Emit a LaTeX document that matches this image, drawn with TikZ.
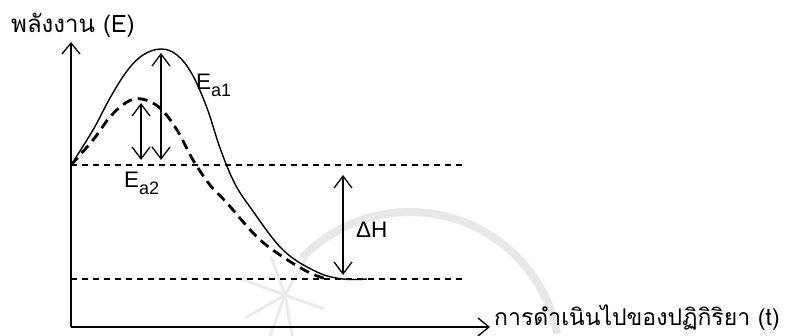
\documentclass[tikz,border=0pt]{standalone}
\usepackage{fontspec}
\setmainfont{Liberation Sans}
\newfontfamily\thaifont[Script=Thai]{Loma}
\usetikzlibrary{arrows.meta}
\newcommand{\mysub}[1]{\raisebox{-0.32em}{\fontsize{18}{18}\selectfont #1}}
\begin{document}
\begin{tikzpicture}[x=1pt,y=-1pt,
  ax/.style={line width=1.3pt,-{Straight Barb[length=11pt,width=18pt]}},
  dbl/.style={line width=1.3pt,{Straight Barb[length=12pt,width=18pt]}-{Straight Barb[length=12pt,width=18pt]}},
  lvl/.style={line width=1.3pt,dash pattern=on 6pt off 5pt},
  solidc/.style={line width=1.4pt},
  dashc/.style={line width=2.8pt,dash pattern=on 10pt off 6pt},
  lbl/.style={inner sep=0pt,font=\fontsize{22.5}{26}\selectfont},
  thlbl/.style={inner sep=0pt,font=\fontsize{23}{28}\thaifont},
  wm/.style={draw=black!9,line width=8pt}]
\useasboundingbox (0,0) rectangle (802,336);
% faint watermark
\draw[wm] (410,362) ++(224:150) arc[start angle=224,end angle=349,radius=150];
\foreach \a/\l in {80/70,110/55,150/45,200/50,250/40,300/45,20/40}
  \draw[black!8,line width=3pt,line cap=round] (285,295) -- ++(\a:\l);
% axes
\coordinate (O) at (71,327);
\coordinate (Ytop) at (71,42);
\coordinate (Xend) at (490,327);
\draw[ax] (O) -- (Ytop);
\draw[ax] (O) -- (Xend);
% energy levels
\coordinate (R1) at (71,165);
\coordinate (R1e) at (463,165);
\coordinate (P1) at (71,279);
\coordinate (P1e) at (463,279);
\draw[lvl] (R1) -- (R1e);
\draw[lvl] (P1) -- (P1e);
% curves
\draw[solidc] plot[smooth,tension=0.6] coordinates {(71,165) (93,130) (110,98) (127,71) (143,55) (161,49) (177,55) (192,74) (207,108) (220,148) (234,182) (250,207) (283,250) (317,272) (343,279) (367,279)};
\draw[dashc] plot[smooth,tension=0.6] coordinates {(71,165) (93,140) (110,117) (127,102) (142,99) (160,108) (177,130) (193,160) (210,185) (227,203) (257,237) (283,257) (310,273) (327,279)};
% arrows
\coordinate (a1t) at (161,53);
\coordinate (a1b) at (161,160);
\coordinate (a2t) at (141,103);
\coordinate (a2b) at (141,160);
\coordinate (dht) at (343,175);
\coordinate (dhb) at (343,275);
\draw[dbl] (a1b) -- (a1t);
\draw[dbl] (a2b) -- (a2t);
\draw[dbl] (dhb) -- (dht);
% labels
\node[lbl,anchor=west] (ea1) at (196,85) {E\mysub{a1}};
\node[lbl,anchor=west] (ea2) at (124,183) {E\mysub{a2}};
\node[lbl,anchor=west] (dh) at (356,230) {ΔH};
\node[thlbl,font=\fontsize{24}{28}\thaifont,anchor=base west] (ylab) at (11,33) {พลังงาน (E)};
\node[thlbl,anchor=base west] (xlab) at (494,325) {การดำเนินไปของปฏิกิริยา (t)};
\end{tikzpicture}
\end{document}
